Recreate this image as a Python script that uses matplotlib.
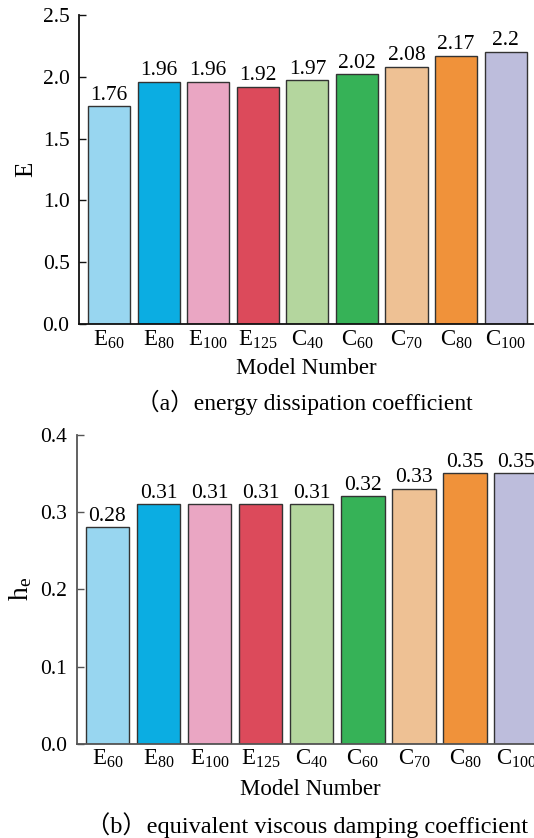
import matplotlib
matplotlib.use("Agg")
import matplotlib.pyplot as plt

plt.rcParams['font.family'] = ['Liberation Serif', 'Noto Sans CJK SC']
plt.rcParams['mathtext.fontset'] = 'custom'
plt.rcParams['mathtext.rm'] = 'Liberation Serif'
plt.rcParams['mathtext.it'] = 'Liberation Serif:italic'

categories = [r'$\mathrm{E}_{60}$', r'$\mathrm{E}_{80}$', r'$\mathrm{E}_{100}$', r'$\mathrm{E}_{125}$',
              r'$\mathrm{C}_{40}$', r'$\mathrm{C}_{60}$', r'$\mathrm{C}_{70}$', r'$\mathrm{C}_{80}$',
              r'$\mathrm{C}_{100}$']
energy = [1.76, 1.96, 1.96, 1.92, 1.97, 2.02, 2.08, 2.17, 2.2]
energy_labels = ['1.76', '1.96', '1.96', '1.92', '1.97', '2.02', '2.08', '2.17', '2.2']
damping = [0.28, 0.31, 0.31, 0.31, 0.31, 0.32, 0.33, 0.35, 0.35]
damping_labels = ['0.28', '0.31', '0.31', '0.31', '0.31', '0.32', '0.33', '0.35', '0.35']
colors = ['#98D6F0', '#0BADE2', '#EAA6C3', '#DC4A5B', '#B4D69E', '#36B257', '#EEC194', '#F0923A', '#BDBDDC']

fig = plt.figure(figsize=(5.34, 8.38), dpi=100)

ax1 = fig.add_axes([0.1485, 0.6130, 0.8496, 0.3695])
ax2 = fig.add_axes([0.1436, 0.1124, 0.8757, 0.3689])

def style(ax, vals, labels, ymax, yticks, ylabel, spine_color, ylabel_size, xlabelpad):
    x = range(len(vals))
    bars = ax.bar(x, vals, width=0.85, color=colors, edgecolor='#333333', linewidth=1.0, zorder=2)
    for b, lab in zip(bars, labels):
        ax.text(b.get_x() + b.get_width() / 2, b.get_height() + ymax * 0.005, lab,
                ha='center', va='bottom', fontsize=15.5)
    ax.set_xlim(-0.6, 8.55)
    ax.set_ylim(0, ymax)
    ax.set_yticks(yticks)
    ax.set_yticklabels([f'{t:.1f}' for t in yticks], fontsize=15.5)
    ax.set_xticks(list(x))
    ax.set_xticklabels(categories, fontsize=16.5)
    ax.tick_params(axis='x', length=0, pad=3)
    ax.tick_params(axis='y', direction='in', length=5, width=1, pad=7, color=spine_color)
    for s in ['top', 'right']:
        ax.spines[s].set_visible(False)
    for s in ['left', 'bottom']:
        ax.spines[s].set_color(spine_color)
        ax.spines[s].set_linewidth(1.3)
    ax.set_xlabel('Model Number', fontsize=16.5, labelpad=xlabelpad)
    ax.set_ylabel(ylabel, fontsize=ylabel_size, labelpad=4)

style(ax1, energy, energy_labels, 2.5, [0.0, 0.5, 1.0, 1.5, 2.0, 2.5], 'E', '#111111', 18, 5)
style(ax2, damping, damping_labels, 0.4, [0.0, 0.1, 0.2, 0.3, 0.4], r'$\mathrm{h}_{\mathrm{e}}$', '#555555', 20, 6)

fig.text(136 / 534, 1 - 402 / 838, '（a）energy dissipation coefficient', ha='left', va='center', fontsize=17)
fig.text(86 / 534, 1 - 825 / 838, '（b）equivalent viscous damping coefficient', ha='left', va='center', fontsize=17.5)

fig.savefig('out.png', dpi=100)
